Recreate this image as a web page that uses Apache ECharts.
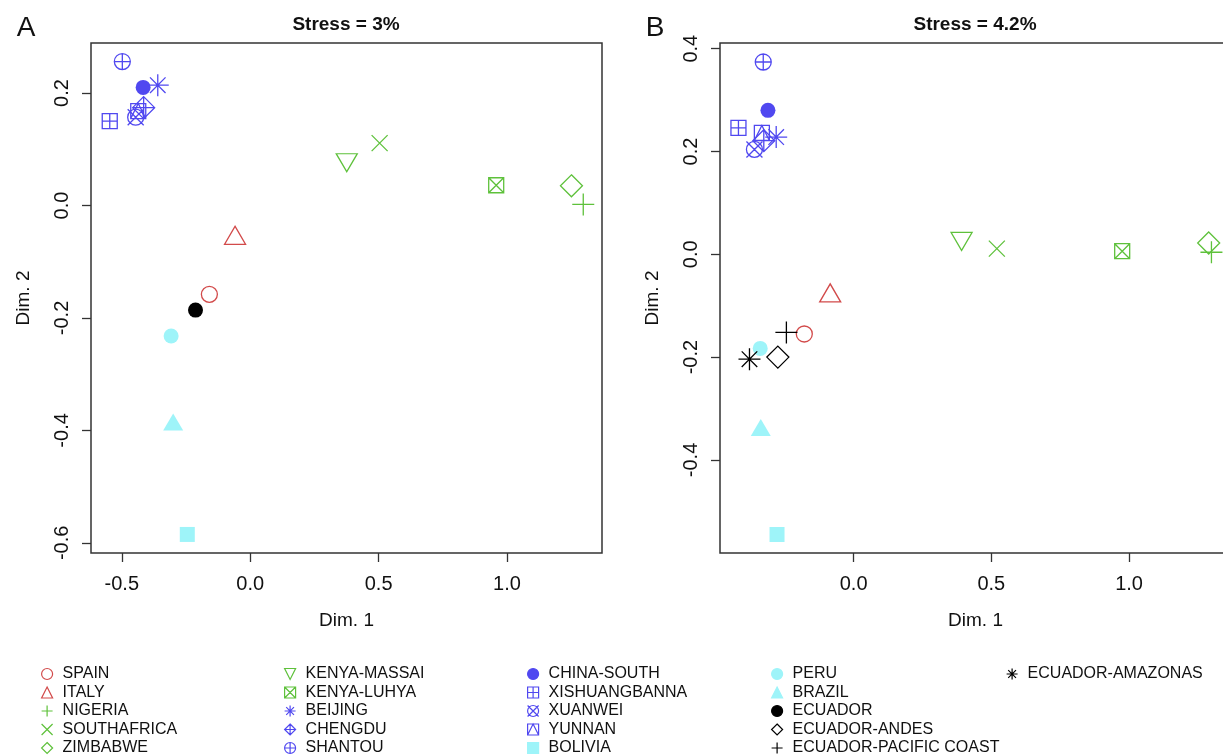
<!DOCTYPE html>
<html>
<head>
<meta charset="utf-8">
<script src="https://cdn.jsdelivr.net/npm/echarts@6/dist/echarts.min.js"></script>
<style>
html, body { margin: 0; padding: 0; background: #fff; overflow: hidden; }
#chart { width: 1223px; height: 756px; }
</style>
</head>
<body>
<div id="chart"></div>
<script>
// panel A (stress 3%)
const groupsA = ['SPAIN', 'ITALY', 'NIGERIA', 'SOUTHAFRICA', 'ZIMBABWE', 'KENYA-MASSAI', 'KENYA-LUHYA',
  'BEIJING', 'CHENGDU', 'SHANTOU', 'CHINA-SOUTH', 'XISHUANGBANNA', 'XUANWEI', 'YUNNAN',
  'BOLIVIA', 'PERU', 'BRAZIL', 'ECUADOR'];
const dim1A = [-0.159, -0.059, 1.297, 0.504, 1.251, 0.376, 0.958,
  -0.360, -0.415, -0.498, -0.417, -0.547, -0.446, -0.436,
  -0.245, -0.308, -0.300, -0.213];
const dim2A = [-0.158, -0.053, 0.002, 0.111, 0.035, 0.076, 0.036,
  0.214, 0.174, 0.256, 0.210, 0.150, 0.157, 0.168,
  -0.585, -0.232, -0.385, -0.186];

// panel B (stress 4.2%)
const groupsB = ['SPAIN', 'ITALY', 'NIGERIA', 'SOUTHAFRICA', 'ZIMBABWE', 'KENYA-MASSAI', 'KENYA-LUHYA',
  'BEIJING', 'CHENGDU', 'SHANTOU', 'CHINA-SOUTH', 'XISHUANGBANNA', 'XUANWEI', 'YUNNAN',
  'BOLIVIA', 'PERU', 'BRAZIL', 'ECUADOR-ANDES', 'ECUADOR-PACIFIC COAST', 'ECUADOR-AMAZONAS'];
const dim1B = [-0.179, -0.085, 1.299, 0.520, 1.289, 0.392, 0.975,
  -0.281, -0.326, -0.328, -0.311, -0.418, -0.360, -0.333,
  -0.278, -0.339, -0.337, -0.275, -0.244, -0.378];
const dim2B = [-0.155, -0.075, 0.004, 0.011, 0.022, 0.025, 0.006,
  0.228, 0.221, 0.374, 0.280, 0.246, 0.204, 0.236,
  -0.545, -0.183, -0.337, -0.200, -0.152, -0.204];

// axis limits and ticks
const xRangeA = [-0.62, 1.37];
const yRangeA = [-0.618, 0.289];
const xRangeB = [-0.485, 1.37];
const yRangeB = [-0.581, 0.411];
const xTicksA = [-0.5, 0, 0.5, 1.0];
const yTicksA = [-0.6, -0.4, -0.2, 0, 0.2];
const xTicksB = [0, 0.5, 1.0];
const yTicksB = [-0.4, -0.2, 0, 0.2, 0.4];

const legendCols = [
  ['SPAIN', 'ITALY', 'NIGERIA', 'SOUTHAFRICA', 'ZIMBABWE'],
  ['KENYA-MASSAI', 'KENYA-LUHYA', 'BEIJING', 'CHENGDU', 'SHANTOU'],
  ['CHINA-SOUTH', 'XISHUANGBANNA', 'XUANWEI', 'YUNNAN', 'BOLIVIA'],
  ['PERU', 'BRAZIL', 'ECUADOR', 'ECUADOR-ANDES', 'ECUADOR-PACIFIC COAST'],
  ['ECUADOR-AMAZONAS']
];

const RED = '#d24a4a', GREEN = '#5ec13b', BLUE = '#5048f0', CYAN = '#9ef4f9', BLACK = '#000';
const FONT = '"Liberation Sans", Arial, Helvetica, sans-serif';

// R-like plotting symbols (open ones are stroked paths)
const SYM = {
  circle: 'path://M-1,0A1,1,0,1,0,1,0A1,1,0,1,0,-1,0Z',
  triangle: 'path://M0,-1L1,1L-1,1Z',
  down: 'path://M-1,-1L1,-1L0,1Z',
  plus: 'path://M0,-1L0,1M-1,0L1,0',
  cross: 'path://M-1,-1L1,1M-1,1L1,-1',
  diamond: 'path://M0,-1L1,0L0,1L-1,0Z',
  squareX: 'path://M-1,-1L1,-1L1,1L-1,1ZM-1,-1L1,1M-1,1L1,-1',
  star: 'path://M0,-1L0,1M-1,0L1,0M-0.707,-0.707L0.707,0.707M-0.707,0.707L0.707,-0.707',
  diamondPlus: 'path://M0,-1L1,0L0,1L-1,0ZM0,-1L0,1M-1,0L1,0',
  circlePlus: 'path://M-1,0A1,1,0,1,0,1,0A1,1,0,1,0,-1,0ZM0,-1L0,1M-1,0L1,0',
  squarePlus: 'path://M-1,-1L1,-1L1,1L-1,1ZM0,-1L0,1M-1,0L1,0',
  circleX: 'path://M-1,0A1,1,0,1,0,1,0A1,1,0,1,0,-1,0ZM-1,-1L1,1M-1,1L1,-1',
  squareTri: 'path://M-1,-1L1,-1L1,1L-1,1ZM-1,1L0,-1L1,1'
};

const markers = {
  'SPAIN': [SYM.circle, RED, 16, false],
  'ITALY': [SYM.triangle, RED, [21, 18], false],
  'NIGERIA': [SYM.plus, GREEN, 22, false],
  'SOUTHAFRICA': [SYM.cross, GREEN, 16, false],
  'ZIMBABWE': [SYM.diamond, GREEN, 22, false],
  'KENYA-MASSAI': [SYM.down, GREEN, [21, 18], false],
  'KENYA-LUHYA': [SYM.squareX, GREEN, 15, false],
  'BEIJING': [SYM.star, BLUE, 22, false],
  'CHENGDU': [SYM.diamondPlus, BLUE, 22, false],
  'SHANTOU': [SYM.circlePlus, BLUE, 16, false],
  'CHINA-SOUTH': ['circle', BLUE, 15, true],
  'XISHUANGBANNA': [SYM.squarePlus, BLUE, 15, false],
  'XUANWEI': [SYM.circleX, BLUE, 16, false],
  'YUNNAN': [SYM.squareTri, BLUE, 15, false],
  'BOLIVIA': ['rect', CYAN, 15, true],
  'PERU': ['circle', CYAN, 15, true],
  'BRAZIL': ['triangle', CYAN, [20, 17], true],
  'ECUADOR': ['circle', BLACK, 15, true],
  'ECUADOR-ANDES': [SYM.diamond, BLACK, 22, false],
  'ECUADOR-PACIFIC COAST': [SYM.plus, BLACK, 22, false],
  'ECUADOR-AMAZONAS': [SYM.star, BLACK, 22, false]
};

const makeSeries = (groups, d1, d2, idx) => groups.map((name, i) => {
  const [symbol, color, size, filled] = markers[name];
  return {
    name: name,
    type: 'scatter',
    xAxisIndex: idx,
    yAxisIndex: idx,
    symbol: symbol,
    symbolSize: size,
    itemStyle: filled
      ? { color: color, borderColor: color, borderWidth: 0, opacity: 1 }
      : { color: 'rgba(0,0,0,0)', borderColor: color, borderWidth: 1.3, opacity: 1 },
    emphasis: { disabled: true },
    data: [[d1[i], d2[i]]]
  };
});

const tickFmt = v => v.toFixed(1);

const makeX = (idx, range, ticks) => ({
  gridIndex: idx, type: 'value', min: range[0], max: range[1],
  name: 'Dim. 1', nameLocation: 'middle', nameGap: 58,
  nameTextStyle: { fontSize: 19, color: '#111', fontFamily: FONT },
  axisLine: { show: false, onZero: false },
  axisTick: { show: true, length: 9, customValues: ticks, lineStyle: { color: '#333', width: 1.3 } },
  axisLabel: { customValues: ticks, formatter: tickFmt, margin: 21, fontSize: 20, color: '#111', fontFamily: FONT },
  splitLine: { show: false }
});

const makeY = (idx, range, ticks) => ({
  gridIndex: idx, type: 'value', min: range[0], max: range[1],
  name: 'Dim. 2', nameLocation: 'middle', nameGap: 58,
  nameTextStyle: { fontSize: 19, color: '#111', fontFamily: FONT },
  axisLine: { show: false, onZero: false },
  axisTick: { show: true, length: 9, customValues: ticks, lineStyle: { color: '#333', width: 1.3 } },
  axisLabel: { customValues: ticks, formatter: tickFmt, rotate: 90, margin: 19, fontSize: 20, color: '#111', fontFamily: FONT },
  splitLine: { show: false }
});

const gridStyle = { show: true, borderColor: '#333', borderWidth: 1.5, backgroundColor: 'transparent',
  containLabel: false, outerBoundsMode: 'none' };

const legendLeft = [41, 284, 527, 771, 1006];

const chart = echarts.init(document.getElementById('chart'), null, { renderer: 'canvas' });
chart.setOption({
  animation: false,
  backgroundColor: '#fff',
  textStyle: { fontFamily: FONT },
  grid: [
    Object.assign({ left: 91, top: 43, width: 511, height: 510 }, gridStyle),
    Object.assign({ left: 720, top: 43, width: 511, height: 510 }, gridStyle)
  ],
  xAxis: [makeX(0, xRangeA, xTicksA), makeX(1, xRangeB, xTicksB)],
  yAxis: [makeY(0, yRangeA, yTicksA), makeY(1, yRangeB, yTicksB)],
  legend: legendCols.map((col, c) => ({
    data: col,
    orient: 'vertical',
    left: legendLeft[c],
    top: 665,
    height: 93,
    padding: 0,
    itemWidth: 11,
    itemHeight: 11,
    itemGap: 0.5,
    selectedMode: false,
    itemStyle: { borderWidth: 1.2 },
    textStyle: { fontSize: 16, lineHeight: 18, color: '#111', fontFamily: FONT, padding: [0, 0, 0, 5] }
  })),
  graphic: [
    { type: 'text', x: 26, y: 28, style: { text: 'A', font: '28px ' + FONT, fill: '#111', align: 'center', verticalAlign: 'middle' } },
    { type: 'text', x: 655, y: 28, style: { text: 'B', font: '28px ' + FONT, fill: '#111', align: 'center', verticalAlign: 'middle' } },
    { type: 'text', x: 346, y: 25, style: { text: 'Stress = 3%', font: 'bold 19px ' + FONT, fill: '#111', align: 'center', verticalAlign: 'middle' } },
    { type: 'text', x: 975, y: 25, style: { text: 'Stress = 4.2%', font: 'bold 19px ' + FONT, fill: '#111', align: 'center', verticalAlign: 'middle' } }
  ],
  series: makeSeries(groupsA, dim1A, dim2A, 0).concat(makeSeries(groupsB, dim1B, dim2B, 1))
});
</script>
</body>
</html>
